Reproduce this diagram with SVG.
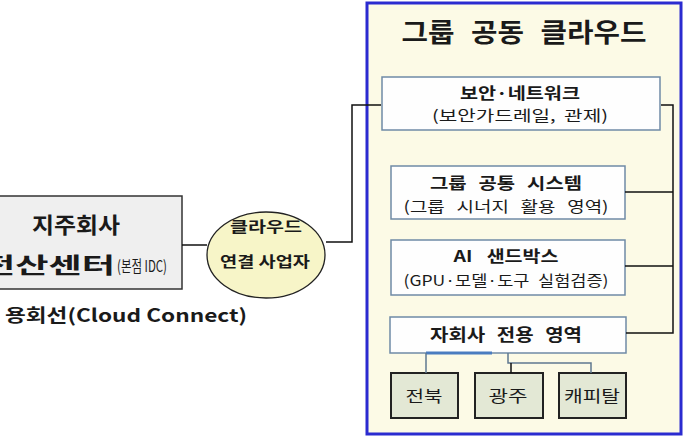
<svg xmlns="http://www.w3.org/2000/svg" width="686" height="440" viewBox="0 0 686 440">
<style>
text{font-family:"Noto Sans CJK KR","Liberation Sans",sans-serif;fill:#1a1a1a;text-anchor:middle}
.b{font-weight:bold}
.box{fill:#fefefe;stroke:#6f8aa6;stroke-width:1.5}
.sub{fill:#e3e8d5;stroke:#222;stroke-width:2}
.ln{fill:none;stroke:#111;stroke-width:1.5}
.ln2{fill:none;stroke:#5f7890;stroke-width:1.5}
</style>
<rect width="686" height="440" fill="#fff"/>
<g id="holding">
<rect x="-5" y="196" width="187" height="93" fill="#efefef" stroke="#333" stroke-width="1.5"/>
<text class="b" x="76" y="233" font-size="22" textLength="88" lengthAdjust="spacingAndGlyphs">지주회사</text>
<text class="b" x="-18" y="273" font-size="22" style="text-anchor:start" textLength="133" lengthAdjust="spacingAndGlyphs">전산센터</text>
<text x="117" y="272" font-size="16" style="text-anchor:start" textLength="50" lengthAdjust="spacingAndGlyphs">(본점 IDC)</text>
</g>
<g id="line-label">
<text class="b" x="5" y="322" font-size="18" style="text-anchor:start" textLength="242" lengthAdjust="spacingAndGlyphs">용회선(Cloud Connect)</text>
</g>
<g id="provider">
<ellipse cx="266" cy="255" rx="59" ry="43" fill="#f7f5c8" stroke="#222" stroke-width="1.3"/>
<text class="b" x="266" y="232" font-size="15" textLength="72" lengthAdjust="spacingAndGlyphs">클라우드</text>
<text class="b" x="265" y="267" font-size="15" textLength="90" lengthAdjust="spacingAndGlyphs">연결 사업자</text>
</g>
<g id="cloud">
<rect x="367" y="3" width="314" height="431" fill="#fcfae6" stroke="#2b2bd0" stroke-width="3"/>
<text class="b" x="524" y="42" font-size="26" word-spacing="9" textLength="245" lengthAdjust="spacingAndGlyphs">그룹 공동 클라우드</text>
</g>
<g id="security">
<rect class="box" x="382" y="77" width="278" height="53"/>
<text class="b" x="520" y="99" font-size="16" textLength="120" lengthAdjust="spacingAndGlyphs">보안·네트워크</text>
<text x="520" y="121" font-size="15" word-spacing="3" textLength="176" lengthAdjust="spacingAndGlyphs">(보안가드레일, 관제)</text>
</g>
<g id="common">
<rect class="box" x="391" y="166" width="234" height="53"/>
<text class="b" x="506" y="189" font-size="16" word-spacing="6" textLength="152" lengthAdjust="spacingAndGlyphs">그룹 공통 시스템</text>
<text x="506" y="212" font-size="15" word-spacing="6" textLength="205" lengthAdjust="spacingAndGlyphs">(그룹 시너지 활용 영역)</text>
</g>
<g id="sandbox">
<rect class="box" x="391" y="240" width="234" height="55"/>
<text class="b" x="506" y="262" font-size="16" word-spacing="8" textLength="105" lengthAdjust="spacingAndGlyphs">AI 샌드박스</text>
<text x="506" y="286" font-size="15" word-spacing="4" textLength="205" lengthAdjust="spacingAndGlyphs">(GPU·모델·도구 실험검증)</text>
</g>
<g id="subsidiary">
<rect class="box" x="390" y="317" width="236" height="36"/>
<text class="b" x="506" y="341" font-size="17" word-spacing="6" textLength="152" lengthAdjust="spacingAndGlyphs">자회사 전용 영역</text>
</g>
<g id="jeonbuk">
<rect class="sub" x="391" y="373" width="67" height="45"/>
<text x="424" y="402" font-size="16" textLength="37" lengthAdjust="spacingAndGlyphs">전북</text>
</g>
<g id="gwangju">
<rect class="sub" x="475" y="373" width="68" height="45"/>
<text x="508" y="402" font-size="16" textLength="39" lengthAdjust="spacingAndGlyphs">광주</text>
</g>
<g id="capital">
<rect class="sub" x="559" y="373" width="67" height="45"/>
<text x="592" y="402" font-size="16" textLength="56" lengthAdjust="spacingAndGlyphs">캐피탈</text>
</g>
<g id="connectors">
<path class="ln" d="M182 245H207"/>
<path class="ln" d="M326 242H352V105H381"/>
<path class="ln" d="M661 105H673V333H626"/>
<path class="ln" d="M625 192H673"/>
<path class="ln" d="M625 266H673"/>
<path d="M426 353H492" stroke="#4a7cc0" stroke-width="3" fill="none"/>
<path class="ln2" d="M426 353V373"/>
<path class="ln2" d="M508 353V363H591V373"/>
<path class="ln" d="M511 363V373"/>
</g>
</svg>
